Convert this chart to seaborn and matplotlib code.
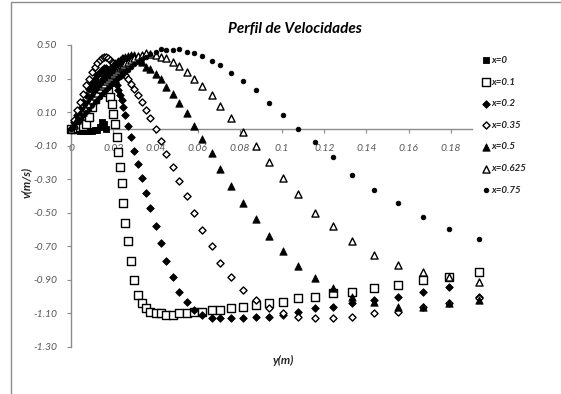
import matplotlib
matplotlib.use("Agg")
import matplotlib.pyplot as plt
import seaborn as sns
from matplotlib.patches import Rectangle

sns.set_theme(style="white")
plt.rcParams['font.family'] = ['Lato', 'DejaVu Sans']

# Radial positions of the mesh nodes (m)
y_m = [0.0000, 0.0014, 0.0029, 0.0043, 0.0057, 0.0071, 0.0086, 0.0100, 0.0112, 0.0124,
       0.0136, 0.0148, 0.0157, 0.0167, 0.0176, 0.0184, 0.0192, 0.0200, 0.0208, 0.0216,
       0.0224, 0.0232, 0.0240, 0.0248, 0.0257, 0.0268, 0.0284, 0.0300, 0.0319, 0.0335,
       0.0356, 0.0374, 0.0403, 0.0427, 0.0452, 0.0481, 0.0514, 0.0549, 0.0583, 0.0619,
       0.0667, 0.0707, 0.0757, 0.0814, 0.0876, 0.0938, 0.1005, 0.1076, 0.1157, 0.1243,
       0.1333, 0.1438, 0.1548, 0.1667, 0.1790, 0.1933]

# Velocity profiles v (m/s) at each axial station
v_x0 = [0.000, 0.000, -0.005, -0.010, -0.010, -0.012, -0.012, -0.010, -0.008, -0.005,
        0.010, 0.040, 0.030, 0.000]

v_x01 = [0.000, 0.000, 0.005, 0.010, 0.015, 0.030, 0.070, 0.130, 0.180, 0.230,
         0.270, 0.290, 0.280, 0.250, 0.220, 0.190, 0.150, 0.090, 0.030, -0.050,
         -0.140, -0.230, -0.320, -0.440, -0.560, -0.670, -0.790, -0.900, -0.990, -1.040,
         -1.070, -1.090, -1.100, -1.100, -1.110, -1.110, -1.100, -1.100, -1.090, -1.090,
         -1.080, -1.080, -1.070, -1.060, -1.050, -1.040, -1.030, -1.010, -1.000, -0.980,
         -0.970, -0.950, -0.930, -0.900, -0.880, -0.850]

v_x02 = [0.00, 0.04, 0.08, 0.12, 0.16, 0.20, 0.24, 0.27, 0.30, 0.32,
         0.34, 0.35, 0.36, 0.36, 0.35, 0.34, 0.32, 0.30, 0.28, 0.26,
         0.23, 0.20, 0.17, 0.13, 0.08, 0.02, -0.05, -0.13, -0.21, -0.29,
         -0.38, -0.47, -0.58, -0.68, -0.79, -0.88, -0.97, -1.03, -1.08, -1.11,
         -1.13, -1.13, -1.13, -1.13, -1.12, -1.12, -1.11, -1.09, -1.07, -1.06,
         -1.04, -1.02, -1.00, -0.97, -0.94, -1.00]

v_x035 = [0.00, 0.05, 0.11, 0.16, 0.21, 0.26, 0.30, 0.34, 0.37, 0.39,
          0.41, 0.42, 0.43, 0.43, 0.42, 0.41, 0.40, 0.39, 0.38, 0.37,
          0.36, 0.35, 0.34, 0.33, 0.32, 0.30, 0.27, 0.24, 0.20, 0.16,
          0.11, 0.065, 0.00, -0.07, -0.15, -0.23, -0.31, -0.40, -0.50, -0.60,
          -0.70, -0.80, -0.88, -0.96, -1.02, -1.07, -1.10, -1.12, -1.13, -1.13,
          -1.12, -1.10, -1.09, -1.06, -1.04, -1.01]

v_x05 = [0.00, 0.03, 0.06, 0.09, 0.12, 0.15, 0.18, 0.21, 0.235, 0.26,
         0.28, 0.30, 0.32, 0.335, 0.35, 0.36, 0.37, 0.38, 0.39, 0.40,
         0.405, 0.41, 0.42, 0.425, 0.43, 0.435, 0.44, 0.44, 0.43, 0.40,
         0.37, 0.355, 0.33, 0.30, 0.25, 0.21, 0.154, 0.095, 0.017, -0.06,
         -0.145, -0.24, -0.34, -0.44, -0.54, -0.64, -0.73, -0.82, -0.89, -0.95,
         -1.00, -1.03, -1.06, -1.06, -1.04, -1.02]

v_x0625 = [0.000, 0.025, 0.050, 0.075, 0.100, 0.125, 0.150, 0.175, 0.195, 0.215,
           0.235, 0.255, 0.270, 0.285, 0.300, 0.310, 0.320, 0.330, 0.340, 0.350,
           0.360, 0.370, 0.375, 0.380, 0.390, 0.400, 0.410, 0.420, 0.435, 0.440,
           0.450, 0.446, 0.440, 0.430, 0.420, 0.400, 0.375, 0.340, 0.300, 0.255,
           0.200, 0.136, 0.065, -0.018, -0.100, -0.200, -0.290, -0.390, -0.500, -0.580,
           -0.670, -0.750, -0.810, -0.850, -0.880, -0.910]

v_x075 = [0.000, 0.020, 0.040, 0.060, 0.080, 0.100, 0.120, 0.140, 0.160, 0.175,
          0.190, 0.205, 0.220, 0.230, 0.245, 0.255, 0.265, 0.275, 0.285, 0.295,
          0.305, 0.310, 0.320, 0.330, 0.340, 0.350, 0.370, 0.385, 0.400, 0.415,
          0.430, 0.445, 0.460, 0.476, 0.470, 0.470, 0.476, 0.458, 0.452, 0.434,
          0.405, 0.381, 0.333, 0.286, 0.232, 0.154, 0.083, 0.000, -0.078, -0.167,
          -0.274, -0.364, -0.441, -0.525, -0.596, -0.656]

labels = ["x=0", "x=0.1", "x=0.2", "x=0.35", "x=0.5", "x=0.625", "x=0.75"]
profiles = [v_x0, v_x01, v_x02, v_x035, v_x05, v_x0625, v_x075]

x_ticks = [0, 0.02, 0.04, 0.06, 0.08, 0.10, 0.12, 0.14, 0.16, 0.18]
x_tick_labels = ["0", "0.02", "0.04", "0.06", "0.08", "0.1", "0.12", "0.14", "0.16", "0.18"]
y_ticks = [-1.3, -1.1, -0.9, -0.7, -0.5, -0.3, -0.1, 0.1, 0.3, 0.5]

# marker, face colour, size (pt^2), edge width
styles = [("s", "black", 24, 0.6),
          ("s", "white", 26, 1.0),
          ("D", "black", 15, 0.6),
          ("D", "white", 13, 1.0),
          ("^", "black", 28, 0.6),
          ("^", "white", 26, 1.0),
          ("o", "black", 11, 0.6)]

fig = plt.figure(figsize=(5.61, 3.94), dpi=100)
ax = fig.add_axes([71 / 561, 1 - 347 / 394, 401 / 561, 302 / 394])

handles = []
for lab, v, (mk, fc, sz, lw) in zip(labels, profiles, styles):
    sns.scatterplot(x=y_m[:len(v)], y=v, ax=ax, marker=mk, s=sz, color=fc,
                    edgecolor="black", linewidth=lw, clip_on=False, zorder=3,
                    legend=False)
    handles.append(ax.collections[-1])

ax.set_xlim(0, 0.19)
ax.set_ylim(-1.3, 0.5)
ax.set_xticks(x_ticks)
ax.set_xticklabels(x_tick_labels)
ax.set_yticks(y_ticks)
ax.set_yticklabels([f"{t:.2f}" for t in y_ticks])

axis_grey = "#8c8c8c"
for side in ["top", "right"]:
    ax.spines[side].set_visible(False)
ax.spines["bottom"].set_position(("data", 0))
for side in ["left", "bottom"]:
    ax.spines[side].set_color(axis_grey)
    ax.spines[side].set_linewidth(1.0)
ax.tick_params(axis="both", direction="out", length=3, width=0.8, color=axis_grey,
               labelsize=7.5, labelcolor="#595959")
ax.tick_params(axis="x", pad=8, bottom=True)
ax.tick_params(axis="y", pad=7, left=True)
for t in ax.get_xticklabels() + ax.get_yticklabels():
    t.set_fontstyle("italic")
ax.set_xlabel("")
ax.set_ylabel("")

fig.text(295 / 561, 1 - 29 / 394, "Perfil de Velocidades", ha="center", va="center",
         fontsize=11, fontweight="bold", fontstyle="italic", color="black")
fig.text(26 / 561, 1 - 182 / 394, "v(m/s)", ha="center", va="center", rotation=90,
         fontsize=8.5, fontweight="bold", fontstyle="italic", color="#262626")
fig.text(283 / 561, 1 - 360 / 394, "y(m)", ha="center", va="center",
         fontsize=8.5, fontweight="bold", fontstyle="italic", color="#262626")

leg = fig.legend(handles, labels, loc="upper left",
                 bbox_to_anchor=(477 / 561, 1 - 52 / 394), frameon=False,
                 handletextpad=0.1, handlelength=1.0, labelspacing=1.3,
                 borderaxespad=0, prop={"size": 7, "weight": "bold", "style": "italic"})
for txt in leg.get_texts():
    txt.set_color("#262626")

fig.patches.append(Rectangle((11 / 561, -0.1), 1.2, 1.1 - 2 / 394, fill=False,
                             edgecolor="#8c8c8c", linewidth=1.0,
                             transform=fig.transFigure, figure=fig))

fig.savefig("out.png", dpi=100)
